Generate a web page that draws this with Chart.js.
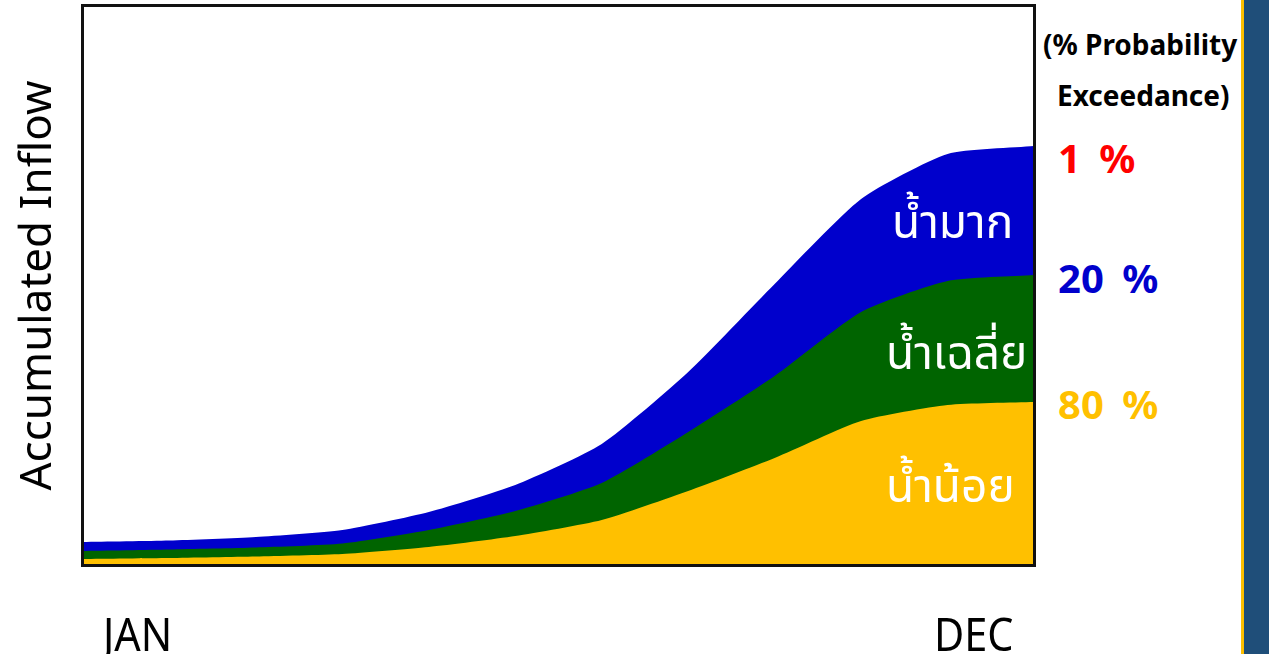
<!DOCTYPE html>
<html lang="th">
<head>
  <meta charset="UTF-8"/>
  <title>Accumulated Inflow</title>
  <style>
    body {
      margin: 0;
      padding: 0;
      background: #fff;
      font-family: 'Noto Sans', 'Noto Sans Thai', 'DejaVu Sans', sans-serif;
    }
    #wrap {
      position: relative;
      width: 1269px;
      height: 654px;
      overflow: hidden;
      background: #fff;
    }
    #chartBox {
      position: absolute;
      left: 0;
      top: 0;
      width: 1040px;
      height: 654px;
    }
    .lbl {
      position: absolute;
      white-space: nowrap;
      line-height: 1;
    }
    .area { color: #fff; font-size: 46px; }
    .pct { font-size: 40px; font-weight: bold; word-spacing: 8px; }
    .hdr { font-size: 28px; font-weight: bold; color: #000; }
    .month {
      font-size: 46px; color: #000;
      transform: scaleX(0.9); transform-origin: left top;
    }
    #panel {
      position: absolute;
      left: 1241px;
      top: 0;
      width: 28px;
      height: 654px;
      background: #1F4E79;
      border-left: 3px solid #FFC000;
      box-sizing: border-box;
    }
  </style>
</head>
<body>
<div id="wrap">
  <div id="chartBox"><canvas id="inflowChart"></canvas></div>

  <div class="lbl area" style="left:892px; top:197px;">น้ำมาก</div>
  <div class="lbl area" style="left:886px; top:328px;">น้ำเฉลี่ย</div>
  <div class="lbl area" style="left:886px; top:461px;">น้ำน้อย</div>

  <div class="lbl hdr" style="left:1043px; top:30px;">(% Probability</div>
  <div class="lbl hdr" style="left:1057px; top:81px;">Exceedance)</div>
  <div class="lbl pct" style="left:1058px; top:138px; color:#FF0000;">1 %</div>
  <div class="lbl pct" style="left:1058px; top:258px; color:#0000CC;">20 %</div>
  <div class="lbl pct" style="left:1058px; top:384px; color:#FFC000;">80 %</div>

  <div class="lbl month" style="left:103px; top:610px;">JAN</div>
  <div class="lbl month" style="left:934px; top:610px;">DEC</div>

  <div id="panel"></div>
</div>

<script src="https://cdn.jsdelivr.net/npm/chart.js"></script>
<script>
// months, values are accumulated inflow (arbitrary units)
const months = ["JAN", "FEB", "MAR", "APR", "MAY", "JUN", "JUL", "AUG", "SEP", "OCT", "NOV", "DEC"];
const wet = [23, 24.5, 28, 35, 53, 80, 121, 193, 281, 366, 411, 419];     // 1 %
const normal = [14, 15.5, 17.5, 21.5, 35, 54, 82, 133, 189, 253, 284, 290]; // 20 %
const dry = [6, 7, 8.5, 11, 18, 29, 45, 74, 107, 144, 160, 163];           // 80 %
const Y_MAX = 559;

// frame round the plot area
const framePlugin = {
  id: "frame",
  afterDatasetsDraw(chart) {
    const a = chart.chartArea;
    const c = chart.ctx;
    c.save();
    c.strokeStyle = "#111";
    c.lineWidth = 3;
    c.strokeRect(a.left - 0.5, a.top - 0.5, a.right - a.left + 1, a.bottom - a.top + 1);
    c.restore();
  }
};

const ctx = document.getElementById("inflowChart").getContext("2d");
new Chart(ctx, {
  type: "line",
  data: {
    labels: months,
    datasets: [
      { label: "80 %", data: dry, backgroundColor: "#FFC000", fill: "origin" },
      { label: "20 %", data: normal, backgroundColor: "#006400", fill: "origin" },
      { label: "1 %", data: wet, backgroundColor: "#0000CC", fill: "origin" }
    ]
  },
  options: {
    responsive: true,
    maintainAspectRatio: false,
    animation: false,
    layout: { padding: { top: 6, right: 6, left: 0, bottom: 0 } },
    elements: {
      point: { radius: 0 },
      line: { borderWidth: 0, tension: 0.2 }
    },
    plugins: { legend: { display: false }, tooltip: { enabled: false } },
    scales: {
      x: {
        grid: { display: false },
        border: { display: false },
        ticks: { display: false },
        afterFit(scale) { scale.height = 89; }
      },
      y: {
        min: 0,
        max: Y_MAX,
        grid: { display: false },
        border: { display: false },
        ticks: { display: false },
        title: {
          display: true,
          text: "Accumulated Inflow",
          color: "#000",
          font: { family: "'Noto Sans', sans-serif", size: 44 },
          padding: { top: 12, bottom: 0 }
        },
        afterFit(scale) { scale.width = 83; }
      }
    }
  },
  plugins: [framePlugin]
});
</script>
</body>
</html>
